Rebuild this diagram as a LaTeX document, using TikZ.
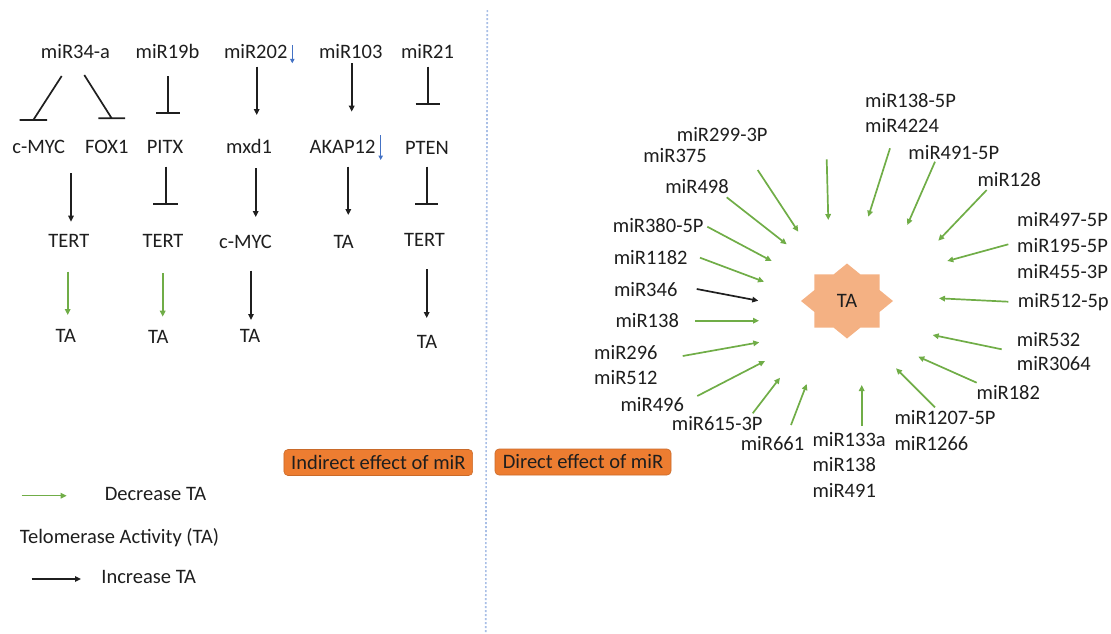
\documentclass[tikz,border=0pt]{standalone}
\usepackage{fontspec}
\setmainfont{Carlito}
\usetikzlibrary{arrows.meta,calc}
\definecolor{grn}{HTML}{70AD47}
\definecolor{blu}{HTML}{4472C4}
\definecolor{dotc}{HTML}{A9BFE6}
\definecolor{orng}{HTML}{ED7D31}
\definecolor{peach}{HTML}{F4B183}
\definecolor{txt}{HTML}{1E1E1E}
\begin{document}
\begin{tikzpicture}[x=1pt,y=-1pt,
  lbl/.style={inner sep=0pt, text height=14pt, text depth=0.8pt, font=\fontsize{20.5}{24}\selectfont, text=txt},
  blk/.style={draw=black!88, line width=1.7pt, -{Triangle[length=6pt,width=5.5pt]}},
  gr/.style={draw=grn, line width=1.7pt, -{Triangle[length=6pt,width=5.5pt]}},
  inh/.style={draw=black!88, line width=1.7pt},
  barrow/.style={draw=blu, line width=1.4pt, -{Triangle[length=4.5pt,width=4.5pt]}},
  effbox/.style={fill=orng, draw=orng!85!black, line width=0.6pt, rounded corners=4pt, inner sep=0pt, minimum height=26pt, text height=14pt, text depth=0.8pt, font=\fontsize{20.5}{24}\selectfont, text=txt}
]
\path[use as bounding box] (0,0) rectangle (1111,633);

% divider
\draw[dotc, line width=1.6pt, dash pattern=on 2pt off 2pt] (487.3,10) -- (485.7,632);

% ---------- left: indirect effects ----------
\node[lbl] (n1a) at (75.5,52) {miR34-a};
\node[lbl] (n1b) at (167.5,52) {miR19b};
\node[lbl] (n1c) at (255.7,52) {miR202};
\node[lbl] (n1d) at (350.7,52) {miR103};
\node[lbl] (n1e) at (427.5,52) {miR21};

\node[lbl] (n2a) at (38.7,147) {c-MYC};
\node[lbl] (n2b) at (106.8,147) {FOX1};
\node[lbl] (n2c) at (165,147) {PITX};
\node[lbl] (n2d) at (249,147) {mxd1};
\node[lbl] (n2e) at (342.5,147) {AKAP12};
\node[lbl] (n2f) at (427,148) {PTEN};

\node[lbl] (n3a) at (68.8,241) {TERT};
\node[lbl] (n3b) at (163,241) {TERT};
\node[lbl] (n3c) at (245.5,242) {c-MYC};
\node[lbl] (n3d) at (343.7,242) {TA};
\node[lbl] (n3e) at (424.5,240) {TERT};

\node[lbl] (n4a) at (65.8,336) {TA};
\node[lbl] (n4b) at (158.3,337) {TA};
\node[lbl] (n4c) at (250,336) {TA};
\node[lbl] (n4e) at (427,342) {TA};

% blue down arrows beside labels
\draw[barrow] ($(n1c)+(36.6,-7)$) -- ++(0,18.3);
\draw[barrow] ($(n2e)+(38.2,-12)$) -- ++(0,25);

% row 1 -> row 2
\draw[inh] ($(n1a)+(-13.8,24)$) -- ($(n2a)+(-5.4,-27)$) ++(-13.8,0) -- ++(27.6,0);
\draw[inh] ($(n1a)+(8.8,23)$) -- ($(n2b)+(4.9,-28.7)$) ++(-13.3,0) -- ++(26.6,0);
\draw[inh] ($(n1b)+(0.8,24)$) -- ($(n2c)+(3.3,-33.7)$) ++(-12,0) -- ++(24,0);
\draw[blk] ($(n1c)+(1,14.7)$) -- ($(n2d)+(7.7,-32)$);
\draw[blk] ($(n1d)+(1,11.3)$) -- ($(n2e)+(9.2,-35.3)$);
\draw[inh] ($(n1e)+(0.2,14.7)$) -- ($(n2f)+(0.7,-44)$) ++(-12,0) -- ++(24,0);

% row 2 -> row 3
\draw[blk] ($(n2a)+(32.3,26)$) -- ($(n3a)+(2.2,-19.3)$);
\draw[inh] ($(n2c)+(0.7,19.7)$) -- ($(n3b)+(2.7,-37)$) ++(-12.3,0) -- ++(24.6,0);
\draw[blk] ($(n2d)+(6.7,21)$) -- ($(n3c)+(10.2,-25)$);
\draw[blk] ($(n2e)+(5.8,19.7)$) -- ($(n3d)+(4.6,-27)$);
\draw[inh] ($(n2f)+(-0.3,18.7)$) -- ($(n3e)+(2.2,-36)$) ++(-11.5,0) -- ++(23,0);

% row 3 -> row 4
\draw[gr] ($(n3a)+(-1.1,30.7)$) -- ($(n4a)+(1.9,-21)$);
\draw[gr] ($(n3b)+(-0.3,32)$) -- ($(n4b)+(4.4,-20.3)$);
\draw[blk] ($(n3c)+(5.5,28.7)$) -- ($(n4c)+(1,-16)$);
\draw[blk] ($(n3e)+(2.2,29)$) -- ($(n4e)+(-0.3,-24)$);

% legend
\node[lbl] (dec) at (155.5,494) {Decrease TA};
\node[lbl] (tel) at (119.5,537.3) {Telomerase Activity (TA)};
\node[lbl] (inc) at (148.7,577.3) {Increase TA};
\draw[gr, line width=1.4pt] ($(dec)+(-133.8,1.7)$) -- ($(dec)+(-88.8,1.7)$);
\draw[blk, line width=1.6pt] ($(inc)+(-117,1.7)$) -- ($(inc)+(-67.7,1.7)$);

% effect boxes
\node[effbox, minimum width=188.7pt] (ind) at (378.3,462.5) {Indirect effect of miR};
\node[effbox, minimum width=176pt] (dir) at (583,462) {Direct effect of miR};

% ---------- right: direct effects ----------
\coordinate (tac) at (847,301);
\fill[peach] ($(tac)+(90:46 and 37.5)$)
  \foreach \k in {0,...,7}{ -- ($(tac)+({67.5-45*\k}:35.2 and 28.7)$) -- ($(tac)+({45-45*\k}:46 and 37.5)$) } -- cycle;
\node[lbl] (ta) at (tac) {TA};

\node[lbl] (r1) at (722.2,135) {miR299-3P};
\node[lbl] (r2) at (675,156) {miR375};
\node[lbl] (r3) at (697,187.3) {miR498};
\node[lbl] (r4) at (658.2,226) {miR380-5P};
\node[lbl] (r5) at (650.7,258.3) {miR1182};
\node[lbl] (r6) at (645.7,290) {miR346};
\node[lbl] (r7) at (647.2,320.7) {miR138};
\node[lbl,anchor=west] (r8a) at (594,353.3) {miR296};
\node[lbl,anchor=west] (r8b) at (594,378.3) {miR512};
\node[lbl] (r9) at (652.3,405) {miR496};
\node[lbl] (r10) at (717.2,424.3) {miR615-3P};
\node[lbl] (r11) at (772.5,444) {miR661};
\node[lbl,anchor=west] (r12a) at (812.3,440) {miR133a};
\node[lbl,anchor=west] (r12b) at (812.3,465) {miR138};
\node[lbl,anchor=west] (r12c) at (812.3,490.7) {miR491};
\node[lbl,anchor=west] (r13a) at (894.3,418.3) {miR1207-5P};
\node[lbl,anchor=west] (r13b) at (894.3,444.3) {miR1266};
\node[lbl] (r14) at (1008.3,393.3) {miR182};
\node[lbl,anchor=west] (r15a) at (1016.7,340) {miR532};
\node[lbl,anchor=west] (r15b) at (1016.7,364.3) {miR3064};
\node[lbl] (r16) at (1063.3,300.7) {miR512-5p};
\node[lbl,anchor=west] (r17a) at (1017,220) {miR497-5P};
\node[lbl,anchor=west] (r17b) at (1017,245.7) {miR195-5P};
\node[lbl,anchor=west] (r17c) at (1017,271.7) {miR455-3P};
\node[lbl] (r18) at (1009.2,180) {miR128};
\node[lbl] (r19) at (953.8,153.3) {miR491-5P};
\node[lbl,anchor=west] (r20a) at (865,100.7) {miR138-5P};
\node[lbl,anchor=west] (r20b) at (865,126) {miR4224};

\draw[gr] ($(r1)+(104.5,24.3)$) -- ($(tac)+(-18.7,-81)$);
\draw[gr] ($(r2)+(82.7,14)$) -- ($(tac)+(-48.7,-69.3)$);
\draw[gr] ($(r3)+(29.7,10)$) -- ($(tac)+(-60.3,-56.7)$);
\draw[gr] ($(r4)+(49.1,0.7)$) -- ($(tac)+(-75.3,-40)$);
\draw[gr] ($(r5)+(49.3,-0.6)$) -- ($(tac)+(-83,-19.3)$);
\draw[blk] ($(r6)+(51,-1)$) -- ($(tac)+(-88.7,-0.3)$);
\draw[gr] ($(r7)+(47.8,0)$) -- ($(tac)+(-88,19.7)$);
\draw[gr] ($(r8a.west)+(88.7,2.7)$) -- ($(tac)+(-87.7,41.3)$);
\draw[gr] ($(r9)+(45,-9)$) -- ($(tac)+(-82,60)$);
\draw[gr] ($(r10)+(35.5,-11)$) -- ($(tac)+(-67,76.7)$);
\draw[gr] ($(r11)+(18.5,-19)$) -- ($(tac)+(-40.3,83)$);
\draw[gr] ($(r12a.west)+(49.4,-14)$) -- ($(tac)+(14.7,84)$);
\draw[gr] ($(r13a.west)+(40.7,-11)$) -- ($(tac)+(49,67.3)$);
\draw[gr] ($(r14)+(-31.6,-10.6)$) -- ($(tac)+(71.3,55.7)$);
\draw[gr] ($(r15a.west)+(-15,9.3)$) -- ($(tac)+(85.7,34)$);
\draw[gr] ($(r16)+(-55,1)$) -- ($(tac)+(92,-2.7)$);
\draw[gr] ($(r17b.west)+(-8.7,-1.4)$) -- ($(tac)+(100.3,-40)$);
\draw[gr] ($(r18)+(-22.5,10)$) -- ($(tac)+(91.3,-60.3)$);
\draw[gr] ($(r19)+(-18.8,8.4)$) -- ($(tac)+(60.3,-76)$);
\draw[gr] ($(r20b.west)+(25,22.3)$) -- ($(tac)+(21.3,-84.3)$);
\end{tikzpicture}
\end{document}
